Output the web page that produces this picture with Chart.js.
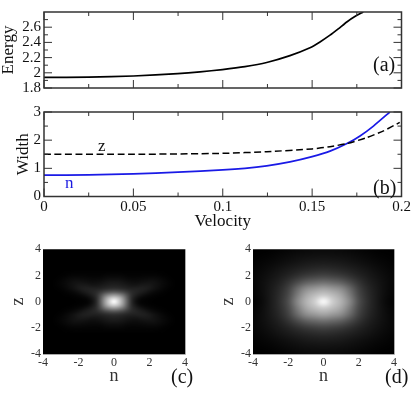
<!DOCTYPE html>
<html>
<head>
<meta charset="utf-8">
<title>Energy and width against velocity</title>
<script src="https://cdn.jsdelivr.net/npm/chart.js@4"></script>
<style>
html, body { margin: 0; padding: 0; background: #fff; }
body { width: 415px; height: 395px; position: relative; overflow: hidden; font-family: "Liberation Serif", serif; }
canvas { position: absolute; filter: blur(0.35px); }
.note { position: absolute; line-height: 1; color: #111; white-space: nowrap; filter: blur(0.3px); }
</style>
</head>
<body>
<canvas id="energyChart" style="left:0px;top:0px" width="415" height="100"></canvas>
<canvas id="widthChart" style="left:0px;top:100px" width="415" height="135"></canvas>
<canvas id="heatC" style="left:0px;top:240px" width="205" height="155"></canvas>
<canvas id="heatD" style="left:205px;top:240px" width="210" height="155"></canvas>
<span class="note" style="left:373px;top:54px;font-size:20px">(a)</span>
<span class="note" style="left:373px;top:177px;font-size:20px">(b)</span>
<span class="note" style="left:171px;top:366px;font-size:20px">(c)</span>
<span class="note" style="left:385px;top:366px;font-size:20px">(d)</span>
<span class="note" style="left:98px;top:137px;font-size:17px">z</span>
<span class="note" style="left:65px;top:174px;font-size:17px;color:#1a1ae0">n</span>
<script>
var energyV = [0, 0.025, 0.05, 0.0748, 0.0873, 0.0998, 0.1124, 0.1246, 0.1376, 0.1488, 0.1544, 0.16, 0.1646, 0.1696, 0.1739, 0.1786];
var energyE = [1.939, 1.943, 1.958, 1.989, 2.012, 2.043, 2.082, 2.136, 2.226, 2.33, 2.406, 2.495, 2.578, 2.672, 2.74, 2.8];

var widthV = [0, 0.025, 0.05, 0.075, 0.1, 0.1124, 0.1246, 0.1376, 0.15, 0.16, 0.1695, 0.1768, 0.1843, 0.1935];
var widthN = [0.757, 0.768, 0.804, 0.862, 0.942, 1, 1.09, 1.23, 1.417, 1.61, 1.88, 2.15, 2.5, 3];

var widthZV = [0, 0.05, 0.1, 0.1246, 0.15, 0.16, 0.1695, 0.18, 0.19, 0.199];
var widthZ = [1.498, 1.498, 1.533, 1.59, 1.69, 1.77, 1.88, 2.08, 2.33, 2.63];

var velocityMajor = [0, 0.05, 0.1, 0.15, 0.2];
var velocityMinor = [0.025, 0.075, 0.125, 0.175];
var energyMajor = [1.8, 2, 2.2, 2.4, 2.6];
var energyMinor = [1.9, 2.1, 2.3, 2.5, 2.7];
var widthMajor = [0, 1, 2, 3];
var widthMinor = [0.5, 1.5, 2.5];
var heatTicks = [-4, -2, 0, 2, 4];

// quarter of each density map, rows z = 0..4, columns n = 0..4, mirrored when drawn
var heatCStep = 0.25;
var heatCQuarter = [
  [255, 215, 160, 95, 40, 14, 4, 2, 1, 0, 0, 0, 0, 0, 0, 0, 0],
  [215, 195, 150, 90, 42, 20, 8, 4, 2, 1, 0, 0, 0, 0, 0, 0, 0],
  [150, 140, 115, 78, 45, 30, 20, 12, 7, 4, 2, 1, 0, 0, 0, 0, 0],
  [85, 80, 70, 55, 42, 36, 30, 24, 16, 10, 6, 3, 1, 0, 0, 0, 0],
  [46, 44, 40, 35, 32, 32, 32, 30, 25, 18, 12, 7, 3, 1, 0, 0, 0],
  [32, 31, 28, 24, 21, 21, 24, 25, 24, 19, 14, 9, 5, 2, 0, 0, 0],
  [24, 23, 20, 16, 14, 13, 15, 17, 18, 17, 13, 9, 5, 2, 0, 0, 0],
  [14, 14, 12, 9, 8, 8, 9, 10, 11, 11, 9, 6, 3, 1, 0, 0, 0],
  [7, 7, 6, 4, 4, 4, 4, 5, 5, 5, 4, 2, 1, 0, 0, 0, 0],
  [2, 2, 2, 2, 2, 2, 2, 2, 2, 2, 1, 1, 0, 0, 0, 0, 0],
  [0, 0, 0, 0, 0, 0, 0, 0, 0, 0, 0, 0, 0, 0, 0, 0, 0],
  [0, 0, 0, 0, 0, 0, 0, 0, 0, 0, 0, 0, 0, 0, 0, 0, 0],
  [0, 0, 0, 0, 0, 0, 0, 0, 0, 0, 0, 0, 0, 0, 0, 0, 0],
  [0, 0, 0, 0, 0, 0, 0, 0, 0, 0, 0, 0, 0, 0, 0, 0, 0],
  [0, 0, 0, 0, 0, 0, 0, 0, 0, 0, 0, 0, 0, 0, 0, 0, 0],
  [0, 0, 0, 0, 0, 0, 0, 0, 0, 0, 0, 0, 0, 0, 0, 0, 0],
  [0, 0, 0, 0, 0, 0, 0, 0, 0, 0, 0, 0, 0, 0, 0, 0, 0]
];

var heatDStep = 0.5;
var heatDQuarter = [
  [255, 208, 178, 135, 78, 46, 26, 10, 2],
  [202, 188, 165, 122, 72, 44, 26, 12, 4],
  [162, 152, 138, 104, 64, 40, 25, 13, 5],
  [108, 102, 92, 72, 50, 33, 22, 13, 6],
  [66, 62, 56, 46, 35, 26, 18, 11, 6],
  [42, 40, 36, 31, 25, 19, 13, 8, 4],
  [27, 26, 24, 20, 16, 12, 8, 5, 2],
  [17, 16, 15, 13, 10, 7, 4, 2, 1],
  [10, 10, 9, 7, 5, 3, 1, 0, 0]
];

var serif = 'Liberation Serif';

function pairs(xs, ys) {
  return xs.map(function (x, i) { return { x: x, y: ys[i] }; });
}

// inward ticks on all four sides plus the frame, placed through the scales
var frameTicks = {
  id: 'frameTicks',
  afterDatasetsDraw: function (chart, args, opts) {
    var c = chart.ctx, a = chart.chartArea;
    c.save();
    c.strokeStyle = '#333';
    c.lineWidth = 1;
    function xTick(v, len) {
      var px = chart.scales.x.getPixelForValue(v);
      c.beginPath();
      c.moveTo(px, a.top); c.lineTo(px, a.top + len);
      c.moveTo(px, a.bottom); c.lineTo(px, a.bottom - len);
      c.stroke();
    }
    function yTick(v, len) {
      var py = chart.scales.y.getPixelForValue(v);
      c.beginPath();
      c.moveTo(a.left, py); c.lineTo(a.left + len, py);
      c.moveTo(a.right, py); c.lineTo(a.right - len, py);
      c.stroke();
    }
    velocityMajor.forEach(function (v) { xTick(v, 8); });
    velocityMinor.forEach(function (v) { xTick(v, 4); });
    opts.major.forEach(function (v) { yTick(v, 8); });
    opts.minor.forEach(function (v) { yTick(v, 4); });
    c.lineWidth = 1.5;
    c.strokeRect(a.left, a.top, a.right - a.left, a.bottom - a.top);
    c.restore();
  }
};

function linePanel(id, yMin, yMax, major, minor, datasets, yTitle, titlePad, showX, paddingTop, xHeight) {
  new Chart(document.getElementById(id), {
    type: 'line',
    data: { datasets: datasets },
    options: {
      responsive: false,
      animation: false,
      events: [],
      layout: { padding: { top: paddingTop, right: 13.5, left: 0, bottom: 0 } },
      elements: { point: { radius: 0 }, line: { tension: 0.2 } },
      plugins: { legend: { display: false }, tooltip: { enabled: false }, frameTicks: { major: major, minor: minor } },
      scales: {
        x: {
          type: 'linear', min: 0, max: 0.2,
          grid: { display: false, drawTicks: false }, border: { display: false },
          afterBuildTicks: function (s) { s.ticks = velocityMajor.map(function (v) { return { value: v }; }); },
          afterFit: function (s) { s.height = xHeight; },
          ticks: {
            display: showX, padding: 2, maxRotation: 0, autoSkip: false, color: '#111',
            font: { family: serif, size: 15 },
            callback: function (v) { return String(v); }
          },
          title: { display: showX, text: 'Velocity', color: '#111', padding: { top: 0, bottom: 3 }, font: { family: serif, size: 17 } }
        },
        y: {
          min: yMin, max: yMax,
          grid: { display: false, drawTicks: false }, border: { display: false },
          afterBuildTicks: function (s) { s.ticks = major.map(function (v) { return { value: v }; }); },
          afterFit: function (s) { s.width = 44; },
          ticks: {
            padding: 3, autoSkip: false, color: '#111',
            font: { family: serif, size: 15 },
            callback: function (v) { return String(v); }
          },
          title: { display: true, text: yTitle, color: '#111', padding: { top: titlePad, bottom: 0 }, font: { family: serif, size: 17 } }
        }
      }
    },
    plugins: [frameTicks]
  });
}

linePanel('energyChart', 1.8, 2.8, energyMajor, energyMinor, [{
  data: pairs(energyV, energyE), borderColor: '#000', borderWidth: 1.7
}], 'Energy', -1.5, false, 2, 11.5);

linePanel('widthChart', 0, 3, widthMajor, widthMinor, [{
  data: pairs(widthZV, widthZ), borderColor: '#000', borderWidth: 1.5, borderDash: [7, 3.5]
}, {
  data: pairs(widthV, widthN), borderColor: '#1a1ae6', borderWidth: 1.7
}], 'Width', 13, true, 10, 38.5);

// mirror a quarter table into the full grid, row 0 at z = -4
function fullGrid(quarter) {
  var rows = quarter.slice().reverse().concat(quarter.slice(1));
  return rows.map(function (r) {
    return r.slice().reverse().concat(r.slice(1));
  });
}

// paints the grid into the area given by the scales, smoothed by the canvas
var densityMap = {
  id: 'densityMap',
  beforeDatasetsDraw: function (chart, args, opts) {
    var grid = fullGrid(opts.quarter);
    var n = grid.length;
    var off = document.createElement('canvas');
    off.width = n; off.height = n;
    var oc = off.getContext('2d');
    grid.forEach(function (row, j) {
      row.forEach(function (v, i) {
        oc.fillStyle = 'rgb(' + v + ',' + v + ',' + v + ')';
        oc.fillRect(i, n - 1 - j, 1, 1);
      });
    });
    var sx = chart.scales.x, sy = chart.scales.y, a = chart.chartArea;
    var half = opts.step / 2;
    var x0 = sx.getPixelForValue(-4 - half), x1 = sx.getPixelForValue(4 + half);
    var y0 = sy.getPixelForValue(4 + half), y1 = sy.getPixelForValue(-4 - half);
    var c = chart.ctx;
    c.save();
    c.beginPath();
    c.rect(a.left, a.top, a.right - a.left, a.bottom - a.top);
    c.clip();
    c.imageSmoothingEnabled = true;
    c.imageSmoothingQuality = 'high';
    c.drawImage(off, x0, y0, x1 - x0, y1 - y0);
    c.restore();
    c.save();
    c.strokeStyle = '#aaa';
    c.beginPath();
    c.moveTo(a.left, a.bottom + 0.5); c.lineTo(a.right + 0.5, a.bottom + 0.5); c.lineTo(a.right + 0.5, a.top);
    c.stroke();
    c.restore();
  }
};

function heatPanel(id, left, right, zPad, quarter, step) {
  function axis(title, titlePadding, extra) {
    return Object.assign({
      type: 'linear', min: -4, max: 4,
      grid: { display: false, drawTicks: false }, border: { display: false },
      afterBuildTicks: function (s) { s.ticks = heatTicks.map(function (v) { return { value: v }; }); },
      ticks: {
        autoSkip: false, maxRotation: 0, color: '#333', padding: 2,
        font: { family: serif, size: 12 },
        callback: function (v) { return String(v); }
      },
      title: { display: true, text: title, color: '#333', padding: titlePadding, font: { family: serif, size: 18 } }
    }, extra);
  }
  new Chart(document.getElementById(id), {
    type: 'scatter',
    data: { datasets: [{ data: [], pointRadius: 0 }] },
    options: {
      responsive: false,
      animation: false,
      events: [],
      layout: { padding: { top: 9, right: right, left: 0, bottom: 0 } },
      plugins: { legend: { display: false }, tooltip: { enabled: false }, densityMap: { quarter: quarter, step: step } },
      scales: {
        x: axis('n', { top: 0, bottom: 8 }, { afterFit: function (s) { s.height = 41; } }),
        y: axis('z', { top: zPad, bottom: 0 }, { afterFit: function (s) { s.width = left; } })
      }
    },
    plugins: [densityMap]
  });
}

heatPanel('heatC', 43, 20, 7, heatCQuarter, heatCStep);
heatPanel('heatD', 48, 21, 12, heatDQuarter, heatDStep);
</script>
</body>
</html>
